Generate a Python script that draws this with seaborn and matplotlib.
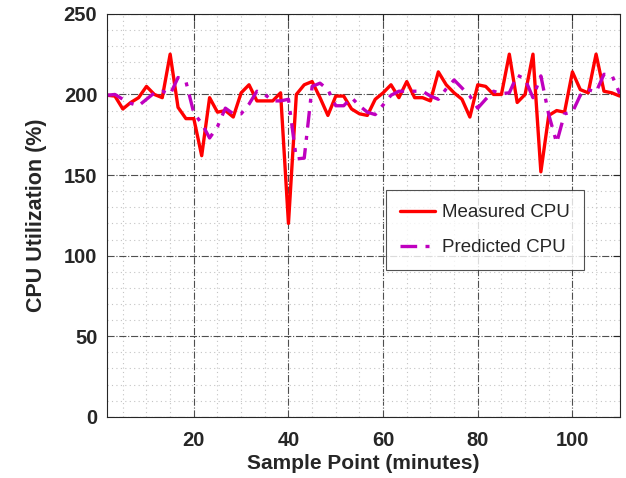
import numpy as np
import pandas as pd
import matplotlib
matplotlib.use("Agg")
import matplotlib.pyplot as plt
import seaborn as sns
from matplotlib.ticker import MultipleLocator

# sample points (66 samples, every 5/3 minutes)
sample_idx = np.arange(1, 67)
minutes = sample_idx * 5 / 3

measured_cpu = [199.5, 199, 191, 195, 198, 205, 200, 198, 225, 192,
                185, 185, 162, 198, 189, 190, 186, 201, 206, 196,
                196, 196, 201, 120, 200, 206, 208, 198, 187, 199,
                199, 191, 188, 187, 197, 201, 206, 198, 208, 198,
                198, 196, 214, 206, 201, 197, 186, 206, 205, 200,
                200, 225, 195, 200, 225, 152, 187, 190, 189, 214,
                203, 201, 225, 202, 201, 199]

predicted_cpu = [199.5, 200, 197, 194.5, 193, 197, 201, 202, 200, 210.5,
                 208, 188.5, 182, 173, 180, 191.5, 188, 188, 194, 202,
                 200, 196, 196, 197, 160, 160.5, 205, 207, 203, 193,
                 193, 198, 193, 189, 187.5, 193.5, 199.5, 202, 202, 202,
                 202, 199, 197, 203.5, 209, 204, 199, 191.5, 197, 202,
                 200.5, 201, 212, 209.5, 198, 211.5, 187.5, 170, 188, 189,
                 199.5, 203, 201.5, 212.5, 212, 200.5]

df = pd.DataFrame({"Sample Point": minutes,
                   "Measured CPU": measured_cpu,
                   "Predicted CPU": predicted_cpu})

sns.set_style("white")
plt.rcParams['font.family'] = ['Liberation Sans', 'DejaVu Sans']

fig = plt.figure(figsize=(6.26, 4.78), dpi=100)
ax = fig.add_axes([0.171, 0.128, 0.819, 0.843])

sns.lineplot(data=df, x="Sample Point", y="Measured CPU", ax=ax,
             color="#ff0000", linewidth=2.4, label="Measured CPU")
sns.lineplot(data=df, x="Sample Point", y="Predicted CPU", ax=ax,
             color="#bf00bf", linewidth=2.4, dashes=False, label="Predicted CPU")
ax.lines[1].set_dashes([5, 2.5, 1.2, 2.5])

ax.set_xlim(5 / 3, 110)
ax.set_ylim(0, 250)
ax.xaxis.set_major_locator(MultipleLocator(20))
ax.xaxis.set_minor_locator(MultipleLocator(5))
ax.yaxis.set_major_locator(MultipleLocator(50))
ax.yaxis.set_minor_locator(MultipleLocator(10))

ax.grid(which="major", linestyle="-.", color="#303030", linewidth=0.8, alpha=0.85)
ax.grid(which="minor", linestyle=(0, (1, 3)), color="#c4c4c4", linewidth=0.8)
ax.set_axisbelow(True)

for s in ax.spines.values():
    s.set_color("#262626")
    s.set_linewidth(0.8)

ax.tick_params(which="both", direction="in", top=True, right=True)
ax.tick_params(which="major", length=5, labelsize=14.5, colors="#262626")
ax.tick_params(axis="x", which="major", pad=10)
ax.tick_params(axis="y", which="major", pad=7)
ax.tick_params(which="minor", length=0)
for lbl in ax.get_xticklabels() + ax.get_yticklabels():
    lbl.set_fontweight("bold")

ax.set_xlabel("Sample Point (minutes)", fontsize=15, fontweight="bold", labelpad=3)
ax.set_ylabel("CPU Utilization (%)", fontsize=15.5, fontweight="bold", labelpad=12)

leg = ax.legend(loc="upper right", bbox_to_anchor=(0.93, 0.563), fontsize=13.5,
                frameon=True, fancybox=False, edgecolor="#262626",
                handlelength=1.9, handletextpad=0.35, borderpad=0.75,
                borderaxespad=0, labelspacing=0.95)
leg.get_frame().set_linewidth(0.8)
leg.get_lines()[1].set_dashes([5, 2.5, 1.2, 2.5])

fig.savefig("out.png", dpi=100)
